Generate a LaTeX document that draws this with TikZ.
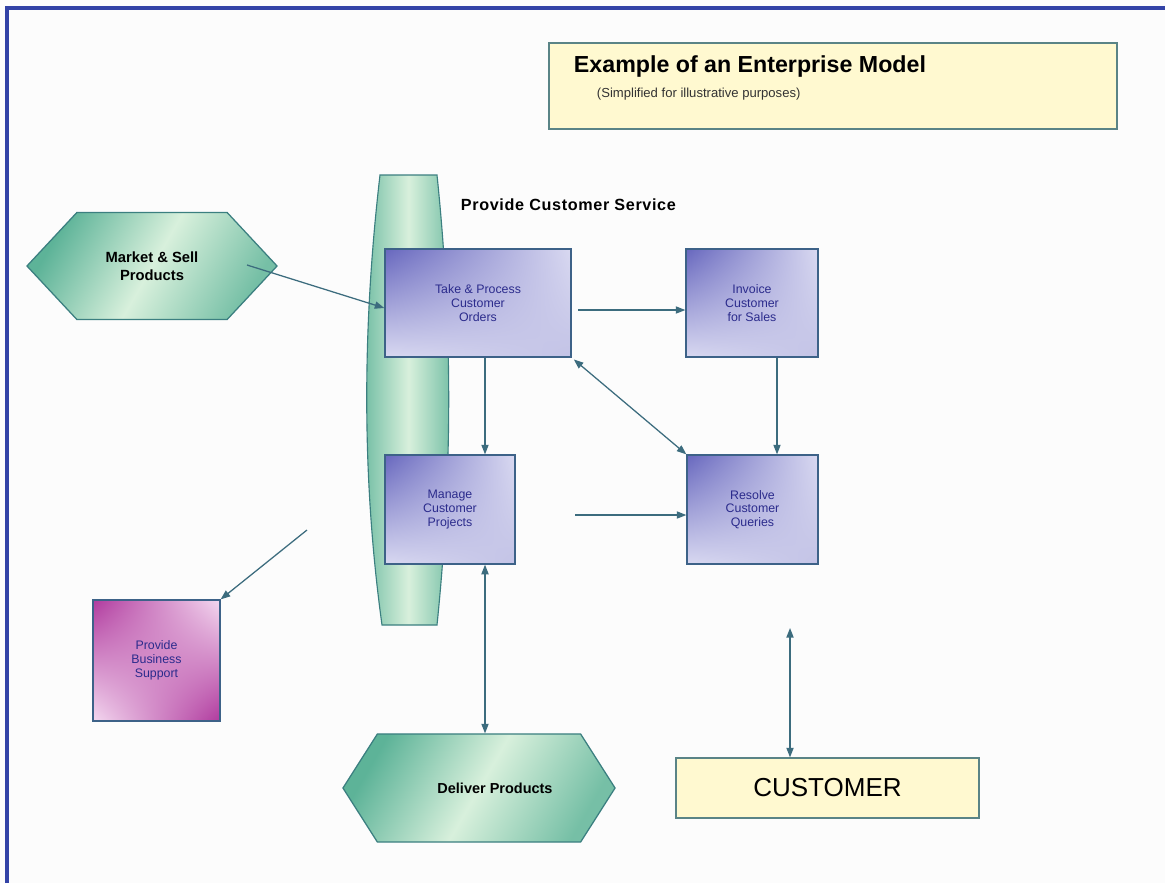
\documentclass[tikz,border=0pt]{standalone}
\usepackage{fontspec}
\setmainfont{Liberation Sans}
\usepackage{tikz}
\usetikzlibrary{
	arrows.meta,
	shapes.symbols,
	shadings,
	calc
}

\definecolor{framebl}{HTML}{3343A6}
\definecolor{pagebg}{HTML}{FCFCFC}
\definecolor{noteyel}{HTML}{FFF9D0}
\definecolor{noteedge}{HTML}{5A8486}
\definecolor{boxedge}{HTML}{3D6288}
\definecolor{boxtext}{HTML}{2B2B8C}
\definecolor{purdark}{HTML}{6767BE}
\definecolor{purlight}{HTML}{D9D9F1}
\definecolor{purmid}{HTML}{C3C3E6}
\definecolor{magdark}{HTML}{B03A9E}
\definecolor{maglight}{HTML}{F4D9F0}
\definecolor{grndark}{HTML}{5DB398}
\definecolor{grnlight}{HTML}{D8F0DC}
\definecolor{grnedge}{HTML}{3B7F80}
\definecolor{flowcol}{HTML}{3C6C7E}

\tikzset{
	procbox/.style={draw=boxedge, line width=0.9pt, align=center,
		text=boxtext, font=\fontsize{8.8}{9.8}\selectfont,
		upper left=purdark, upper right=purlight,
		lower left=purlight, lower right=purmid},
	suppbox/.style={draw=boxedge, line width=0.9pt, align=center,
		text=boxtext, font=\fontsize{8.8}{9.8}\selectfont,
		upper left=magdark, upper right=maglight,
		lower left=maglight, lower right=magdark},
	hexnode/.style={signal, signal to=east and west, draw=grnedge,
		line width=0.9pt, align=center, font=\bfseries,
		left color=grndark, right color=grndark!80!grnlight, middle color=grnlight,
		shading angle=60},
	notebox/.style={draw=noteedge, line width=1pt, fill=noteyel},
	flow/.style={draw=flowcol, line width=0.9pt,
		-{Triangle[length=2.4mm, width=1.8mm]}},
	twoflow/.style={draw=flowcol, line width=0.9pt,
		{Triangle[length=2.4mm, width=1.8mm]}-{Triangle[length=2.4mm, width=1.8mm]}}
}

\begin{document}
\begin{tikzpicture}[x=0.025cm, y=-0.025cm]
	\useasboundingbox (0,0) rectangle (1165,883);
	\fill[pagebg] (0,0) rectangle (1165,883);
	\draw[framebl, line width=2.2pt] (7,883) -- (7,8) -- (1165,8);

	% title
	\node[notebox, minimum width=14.2cm, minimum height=2.15cm] (titlebox) at (833,86) {};
	\node[anchor=west, font=\fontsize{16.5}{19}\bfseries] (title) at (569,66) {Example of an Enterprise Model};
	\node[anchor=west, font=\fontsize{9.3}{11}\selectfont, text=black!80] (subtitle) at (592,94) {(Simplified for illustrative purposes)};

	% band behind the service boxes
	\draw[grnedge, line width=0.8pt, left color=grndark!85!grnlight, right color=grndark!85!grnlight, middle color=grnlight]
		(380,175) -- (437,175) .. controls (450,300) and (455,450) .. (437,625)
		-- (382,625) .. controls (362,480) and (362,330) .. cycle;
	\node[anchor=west, font=\fontsize{11.5}{14}\bfseries\addfontfeature{LetterSpace=4}] (service) at (456,205) {Provide Customer Service};

	% nodes
	\node[hexnode, minimum width=6.25cm, minimum height=2.675cm, signal pointer angle=94,
		font=\fontsize{10.5}{13}\bfseries] (market) at (152,266) {Market \& Sell\\Products};
	\node[procbox, minimum width=4.65cm, minimum height=2.7cm] (take) at (478,303) {Take \& Process\\Customer\\Orders};
	\node[procbox, minimum width=3.3cm, minimum height=2.7cm] (invoice) at (752,303) {Invoice\\Customer\\for Sales};
	\node[procbox, minimum width=3.25cm, minimum height=2.725cm] (manage) at (450,509.5) {Manage\\Customer\\Projects};
	\node[procbox, minimum width=3.275cm, minimum height=2.725cm] (resolve) at (752.5,509.5) {Resolve\\Customer\\Queries};
	\node[suppbox, minimum width=3.175cm, minimum height=3.025cm] (support) at (156.5,660.5) {Provide\\Business\\Support};
	\node[hexnode, minimum width=6.8cm, minimum height=2.7cm, signal pointer angle=115,
		font=\fontsize{10.3}{12}\bfseries] (deliver) at (479,788) {\hspace*{0.8cm}Deliver Products};
	\node[notebox, line width=0.9pt, minimum width=7.575cm, minimum height=1.5cm,
		font=\fontsize{18.5}{22}\selectfont] (customer) at (827.5,788) {CUSTOMER};

	% connectors
	\coordinate (mktout) at (247,265);
	\coordinate (takeout) at (578,310);
	\coordinate (mgrout) at (575,515);
	\coordinate (suppin) at (307,530);
	\coordinate (custin) at (790,628);
	\draw[flow] (mktout) -- ($(take.west)+(0,5)$);
	\draw[flow] (takeout) -- (invoice.west |- takeout);
	\draw[flow] (take.south -| 485,0) -- (manage.north -| 485,0);
	\draw[flow] (invoice.south -| 777,0) -- (resolve.north -| 777,0);
	\draw[twoflow, shorten <=2pt] (take.south east) -- (resolve.north west);
	\draw[flow] (mgrout) -- (resolve.west |- mgrout);
	\draw[flow] (suppin) -- (support.north east);
	\draw[twoflow] (manage.south -| 485,0) -- (deliver.north -| 485,0);
	\draw[twoflow] (custin) -- (customer.north -| custin);
\end{tikzpicture}
\end{document}
